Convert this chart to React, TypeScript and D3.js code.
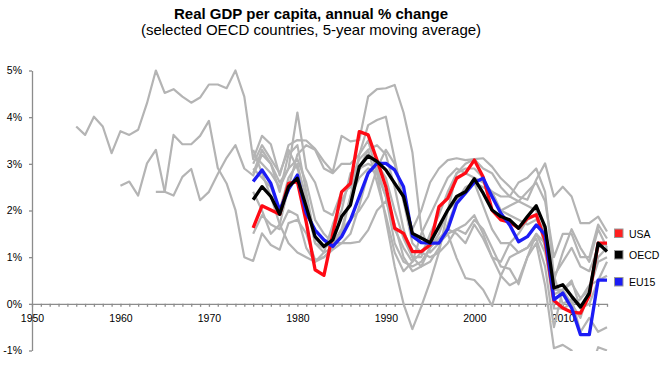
import React, { useEffect, useRef } from 'react';
import * as d3 from 'd3';

const WIDTH = 666;
const HEIGHT = 367;
const FONT = '"Liberation Sans", Arial, sans-serif';

// axis
const firstYear = 1950;
const lastYear = 2015;
const yearLabels = [1950, 1960, 1970, 1980, 1990, 2000, 2010];
const pctTicks = [-1, 0, 1, 2, 3, 4, 5];

// highlighted series, 1975-2015
const usaStart = 1975;
const usa = [1.63, 2.1, 2.01, 1.92, 2.58, 2.62, 1.75, 0.73, 0.61, 1.5,
  2.4, 2.58, 3.69, 3.62, 3.08, 2.51, 1.62, 1.51, 1.12, 1.12,
  1.26, 2.08, 2.26, 2.69, 2.8, 3.08, 2.72, 2.01, 1.8, 1.75,
  1.62, 1.83, 1.91, 1.35, 0.07, -0.09, -0.18, -0.2, 0.18, 1.3,
  1.3];

const oecdStart = 1975;
const oecd = [2.23, 2.51, 2.3, 1.92, 2.51, 2.69, 2.08, 1.44, 1.23, 1.37,
  1.87, 2.12, 2.94, 3.17, 3.05, 2.87, 2.58, 2.3, 1.51, 1.41,
  1.31, 1.66, 2.01, 2.3, 2.4, 2.68, 2.37, 2.01, 1.87, 1.8,
  1.62, 1.87, 2.1, 1.65, 0.34, 0.41, 0.16, -0.07, 0.23, 1.3,
  1.12];

const eu15Start = 1975;
const eu15 = [2.62, 2.87, 2.58, 2.0, 2.45, 2.76, 1.94, 1.58, 1.37, 1.23,
  1.44, 1.8, 2.3, 2.8, 3.01, 3.01, 2.87, 2.51, 1.45, 1.31,
  1.3, 1.3, 1.6, 2.15, 2.37, 2.6, 2.69, 2.3, 1.94, 1.69,
  1.33, 1.44, 1.69, 1.48, 0.09, 0.23, -0.09, -0.66, -0.66, 0.51,
  0.51];

// other OECD countries (grey)
const greyAStart = 1955;
const greyA = [3.8, 3.62, 4.01, 3.8, 3.23, 3.7, 3.62, 3.73, 4.3, 5.0,
  4.52, 4.6, 4.44, 4.31, 4.42, 4.7, 4.7, 4.62, 5.0, 4.44,
  3.1, 3.6, 3.42, 2.75, 3.4, 3.51, 3.5, 3.32, 3.05, 2.83,
  3.6, 3.48, 3.51, 4.44, 4.6, 4.62, 4.69, 4.1, 3.25, 1.6,
  1.1, 1.3, 1.5, 0.98, 0.55, 0.51, 0.3, -0.04, 0.6, 1.0,
  1.1, 1.2, 1.4, 0.8, -0.5, 0.3, 0.0, 0.1, 0.4, 0.5,
  0.9];

const greyBStart = 1960;
const greyB = [2.53, 2.62, 2.32, 3.01, 3.3, 2.4, 2.32, 2.72, 2.89, 2.22,
  2.4, 2.78, 3.13, 3.4, 2.9, 2.75, 3.2, 3.0, 2.6, 2.9,
  4.1, 2.9, 2.6, 2.0, 1.9, 2.4, 2.5, 2.9, 3.3, 3.4,
  3.2, 2.5, 1.6, 1.0, 1.0, 1.5, 1.9, 2.4, 2.8, 2.9,
  2.9, 2.7, 2.3, 2.0, 2.1, 2.2, 2.4, 2.6, 2.2, 1.0,
  1.5, 1.5, 1.0, 1.0, 1.7, 1.4];

const greyCStart = 1964;
const greyC = [2.4, 2.4, 3.62, 3.42, 3.42, 3.6, 3.92, 2.91, 2.58, 2.01,
  1.0, 0.92, 1.51, 1.26, 1.16, 1.73, 1.8, 1.51, 0.94, 1.0,
  1.16, 1.3, 1.3, 1.33, 1.58, 2.0, 2.2, 1.7, 1.0, 0.7,
  0.8, 1.2, 1.4, 1.6, 1.5, 1.3, 1.7, 1.4, 1.0, 0.9,
  1.3, 1.5, 1.8, 1.9, 1.5, 0.3, 0.3, 0.44, 0.12, 0.3,
  0.9, 1.0];

const greyDStart = 1975;
const greyD = [3.2, 3.0, 2.8, 2.5, 2.9, 3.1, 2.6, 1.8, 1.5, 1.3,
  1.3, 1.5, 2.1, 2.8, 3.0, 2.7, 2.0, 1.4, 1.0, 0.8,
  0.9, 1.2, 1.7, 2.2, 2.5, 2.6, 2.1, 1.6, 1.3, 1.3,
  1.1, 1.2, 1.5, 1.1, 0.2, 0.3, 0.5, -0.1, 0.0, 0.5,
  0.6];

const greyEStart = 1975;
const greyE = [2.9, 2.7, 2.5, 2.0, 2.7, 3.0, 2.2, 1.3, 1.1, 1.2,
  1.6, 1.8, 2.0, 2.3, 2.9, 3.3, 3.0, 2.2, 1.3, 1.1,
  1.0, 1.1, 1.3, 1.6, 1.7, 1.9, 1.5, 1.0, 0.6, 0.4,
  0.5, 1.0, 1.5, 1.3, 0.5, 1.1, 1.6, 1.2, 0.9, 1.6,
  1.2];

const greyFStart = 1975;
const greyF = [1.5, 1.9, 1.7, 1.6, 2.0, 1.9, 1.2, 0.9, 1.1, 1.7,
  2.2, 2.6, 3.1, 3.3, 2.6, 1.9, 1.1, 0.7, 0.9, 1.5,
  1.9, 2.3, 2.7, 2.9, 2.8, 2.7, 2.6, 2.4, 2.3, 2.3,
  2.2, 2.1, 2.0, 1.2, -0.1, -0.1, 0.0, -0.3, 0.3, 1.0,
  1.2];

const greyGStart = 1975;
const greyG = [3.3, 2.8, 2.3, 1.7, 1.3, 1.1, 1.0, 0.9, 1.0, 1.2,
  1.5, 2.3, 3.2, 3.83, 3.94, 4.01, 3.1, 2.2, 1.6, 2.0,
  2.6, 2.9, 3.08, 3.12, 3.08, 3.1, 3.12, 2.94, 2.69, 2.51,
  2.3, 2.23, 2.66, 3.01, 2.3, 2.51, 2.3, 1.73, 1.73, 1.87,
  1.55];

const greyHStart = 1975;
const greyH = [2.4, 2.0, 1.5, 1.7, 2.5, 3.2, 3.4, 3.3, 2.9, 2.8,
  3.0, 3.0, 3.2, 3.5, 2.8, 1.8, 0.8, 0.0, -0.54, -0.06,
  0.47, 1.1, 2.0, 2.8, 3.0, 3.1, 2.9, 2.8, 2.5, 2.3,
  2.6, 2.7, 2.9, 2.4, 0.6, 0.0, 0.1, -0.6, -0.3, -0.6,
  -0.5];

const greyIStart = 1975;
const greyI = [2.8, 3.3, 3.0, 2.4, 3.2, 3.4, 2.4, 1.4, 1.2, 1.3,
  1.6, 2.3, 2.7, 2.9, 2.8, 2.3, 1.6, 1.2, 0.9, 1.1,
  1.4, 1.3, 1.5, 1.6, 1.5, 1.8, 1.6, 1.2, 0.8, 0.75,
  0.42, 1.0, 1.3, 0.4, -0.95, -0.88, -1.0, -1.6, -1.5, -0.93,
  -1.0];

const greyJStart = 1975;
const greyJ = [3.0, 3.4, 3.1, 2.8, 3.3, 2.9, 2.3, 1.3, 1.2, 1.6,
  2.0, 2.8, 2.9, 3.0, 2.9, 2.3, 1.3, 0.9, 0.8, 0.9,
  1.2, 1.5, 2.0, 2.2, 2.4, 2.6, 2.5, 2.4, 2.0, 1.9,
  1.8, 1.7, 1.8, 1.6, 0.6, 0.9, 1.2, 0.8, 0.7, 1.2,
  1.3];

const greySeries = [
  { start: greyAStart, values: greyA },
  { start: greyBStart, values: greyB },
  { start: greyCStart, values: greyC },
  { start: greyDStart, values: greyD },
  { start: greyEStart, values: greyE },
  { start: greyFStart, values: greyF },
  { start: greyGStart, values: greyG },
  { start: greyHStart, values: greyH },
  { start: greyIStart, values: greyI },
  { start: greyJStart, values: greyJ },
];

// drawn in this order: red, blue, then black on top
const mainSeries = [
  { name: 'USA', start: usaStart, values: usa, color: '#ff0a14' },
  { name: 'EU15', start: eu15Start, values: eu15, color: '#1c1cf5' },
  { name: 'OECD', start: oecdStart, values: oecd, color: '#000000' },
];

const legendItems = [
  { name: 'USA', color: '#ff2020', y: 233.5 },
  { name: 'OECD', color: '#000000', y: 255 },
  { name: 'EU15', color: '#1c1cf5', y: 282 },
];

const App = () => {
  const chartRef = useRef<SVGSVGElement>(null);

  useEffect(() => {
    drawChart();
  }, []);

  const drawChart = () => {
    const svg = d3.select(chartRef.current);
    svg.selectAll('*').remove();

    const x = d3.scaleLinear().domain([firstYear, lastYear]).range([32, 607]);
    const y = d3.scaleLinear().domain([-1, 5]).range([350.5, 70.5]);

    svg.append('defs')
      .append('clipPath')
      .attr('id', 'plot-clip')
      .append('rect')
      .attr('x', 32)
      .attr('y', y(5) - 2)
      .attr('width', x(lastYear) - 32 + 4)
      .attr('height', y(-1) - y(5) + 2.5);

    // titles
    svg.append('text')
      .attr('x', 311)
      .attr('y', 19)
      .attr('text-anchor', 'middle')
      .style('font-family', FONT)
      .style('font-size', '15px')
      .style('font-weight', 'bold')
      .text('Real GDP per capita, annual % change');

    svg.append('text')
      .attr('x', 311)
      .attr('y', 34.5)
      .attr('text-anchor', 'middle')
      .style('font-family', FONT)
      .style('font-size', '15px')
      .text('(selected OECD countries, 5-year moving average)');

    // axes
    const yAxis = svg.append('g')
      .attr('transform', `translate(${x(firstYear)},0)`)
      .call(d3.axisLeft(y)
        .tickValues(pctTicks)
        .tickSize(3)
        .tickSizeOuter(0)
        .tickPadding(7)
        .tickFormat(d => `${d}%`));

    const xAxis = svg.append('g')
      .attr('transform', `translate(0,${y(0)})`)
      .call(d3.axisBottom(x)
        .tickValues(d3.range(firstYear, lastYear + 1))
        .tickSize(3)
        .tickSizeOuter(0)
        .tickPadding(8)
        .tickFormat(d => (yearLabels.includes(+d) ? String(d) : '')));

    [yAxis, xAxis].forEach(g => {
      g.selectAll('path, line').attr('stroke', '#8c8c8c').attr('stroke-width', 1.3);
      g.selectAll('text')
        .attr('fill', '#000')
        .style('font-family', FONT)
        .style('font-size', '10.5px');
    });

    const plot = svg.append('g').attr('clip-path', 'url(#plot-clip)');

    const lineFor = (start: number) => d3.line<number>()
      .x((d, i) => x(start + i))
      .y(d => y(d));

    plot.selectAll('.grey')
      .data(greySeries)
      .enter().append('path')
      .attr('class', 'grey')
      .attr('d', d => lineFor(d.start)(d.values))
      .attr('fill', 'none')
      .attr('stroke', '#b4b4b4')
      .attr('stroke-width', 2.2)
      .attr('stroke-linejoin', 'round');

    plot.selectAll('.main')
      .data(mainSeries)
      .enter().append('path')
      .attr('class', 'main')
      .attr('d', d => lineFor(d.start)(d.values))
      .attr('fill', 'none')
      .attr('stroke', d => d.color)
      .attr('stroke-width', 3.3)
      .attr('stroke-linejoin', 'round');

    // legend
    const legend = svg.append('g');
    legend.selectAll('rect')
      .data(legendItems)
      .enter().append('rect')
      .attr('x', 614.5)
      .attr('y', d => d.y - 4.5)
      .attr('width', 8.5)
      .attr('height', 8.5)
      .attr('fill', d => d.color)
      .attr('stroke', '#9a9a9a')
      .attr('stroke-width', 1);

    legend.selectAll('text')
      .data(legendItems)
      .enter().append('text')
      .attr('x', 629)
      .attr('y', d => d.y + 4)
      .style('font-family', FONT)
      .style('font-size', '10.5px')
      .text(d => d.name);
  };

  return (
    <svg
      ref={chartRef}
      width={WIDTH}
      height={HEIGHT}
      style={{ position: 'absolute', left: 0, top: 0, background: '#fff' }}
    />
  );
};

export default App;
